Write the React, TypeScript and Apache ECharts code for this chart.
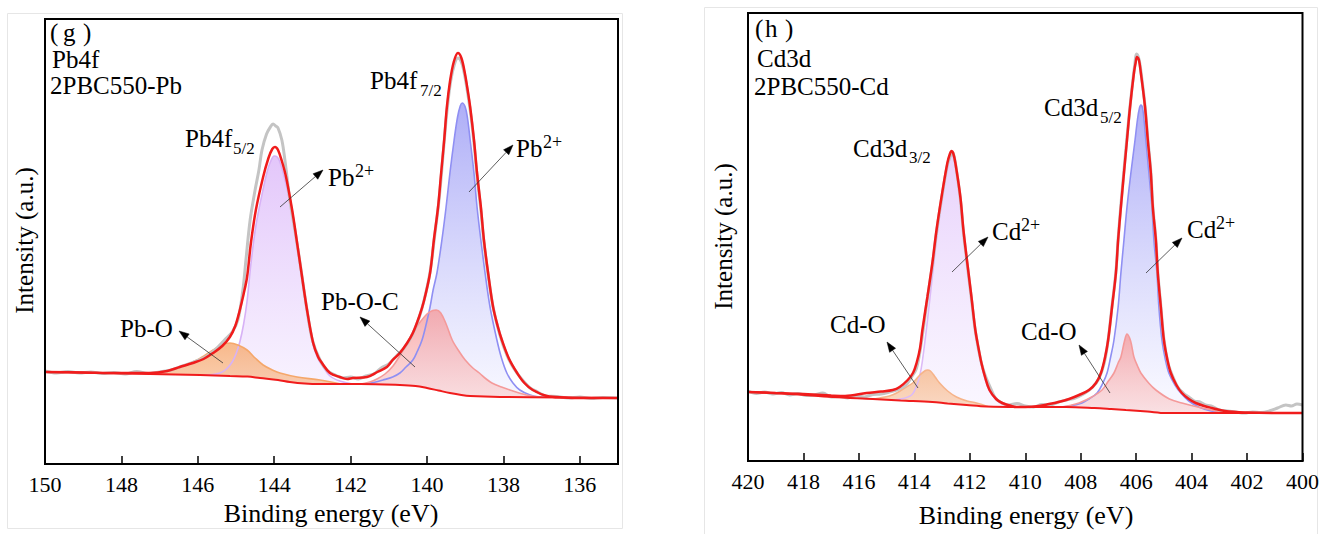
import React, { useEffect, useRef } from "react";
import * as echarts from "echarts";

// ---------------- DATA (binding energy eV, intensity a.u.) ----------------
const PB_TICKS = [136, 138, 140, 142, 144, 146, 148, 150];

const pbRaw = [
  [150, 93], [149.7, 91], [149.4, 92.5], [149.1, 91], [148.8, 92], [148.5, 90.5], [148.2, 91.5], [147.9, 90],
  [147.6, 92.5], [147.3, 90.5], [147.0, 92], [146.7, 94], [146.4, 98], [146.1, 102], [145.8, 107], [145.5, 116],
  [145.3, 124], [145.1, 132], [144.95, 144], [144.82, 174], [144.74, 204], [144.63, 244], [144.5, 274], [144.4, 294],
  [144.32, 314], [144.2, 330], [144.1, 337], [144.03, 340], [143.96, 338], [143.9, 336], [143.8, 324], [143.72, 304],
  [143.59, 264], [143.45, 232], [143.3, 195], [143.15, 156], [143.0, 124], [142.8, 104], [142.6, 93], [142.4, 89],
  [142.2, 86], [142.0, 87], [141.8, 85], [141.6, 88], [141.4, 90], [141.2, 96], [141.0, 100], [140.8, 108],
  [140.6, 116], [140.4, 128], [140.2, 147], [140.05, 168], [139.92, 192], [139.8, 228], [139.68, 266], [139.56, 318],
  [139.48, 352], [139.38, 383], [139.28, 400], [139.19, 406], [139.1, 402], [139.01, 388], [138.87, 354], [138.77, 321],
  [138.69, 288], [138.59, 254], [138.51, 222], [138.4, 189], [138.27, 157], [138.1, 130], [137.9, 108], [137.7, 94],
  [137.5, 84], [137.3, 76], [137.1, 72], [136.9, 68], [136.6, 67.5], [136.3, 66], [136.0, 67], [135.7, 65.5],
  [135.4, 66.5], [135.0, 66],
];

const pbEnvelope = [
  [150.0, 92], [149.0, 91.5], [148.0, 91], [147.25, 91], [146.8, 93], [146.47, 97], [146.13, 101], [145.85, 105],
  [145.6, 111], [145.36, 118], [145.16, 127], [145.02, 138], [144.9, 154], [144.8, 170], [144.71, 187], [144.61, 221],
  [144.48, 254], [144.29, 287], [144.15, 306], [144.05, 315], [143.98, 317], [143.9, 314], [143.8, 303], [143.69, 287],
  [143.53, 254], [143.4, 221], [143.27, 187], [143.14, 154], [142.98, 121], [142.85, 107], [142.75, 101], [142.54, 91],
  [142.28, 87], [142.09, 85], [141.94, 86], [141.57, 87], [141.3, 92], [141.05, 97], [140.9, 104], [140.71, 111],
  [140.52, 121], [140.37, 131], [140.2, 148], [140.08, 163], [139.92, 191], [139.82, 224], [139.71, 257], [139.63, 291],
  [139.55, 324], [139.48, 357], [139.4, 382], [139.3, 402], [139.19, 411], [139.1, 406], [139.01, 391], [138.94, 375],
  [138.87, 357], [138.77, 324], [138.69, 291], [138.59, 257], [138.51, 224], [138.4, 191], [138.27, 157], [138.15, 138],
  [138.04, 124], [137.85, 105], [137.64, 91], [137.45, 81], [137.23, 74], [136.86, 68], [136.4, 66.5], [136.0, 66],
  [135.0, 66],
];

const pbBackground = [
  [150, 92], [148.56, 91], [147.25, 90], [145.94, 89], [145.16, 88], [144.7, 87.5], [144.37, 86], [143.9, 84],
  [143.59, 82], [143.2, 80.5], [142.8, 80], [141.75, 80], [140.71, 79], [140.3, 78], [140.0, 76], [139.7, 73.5],
  [139.4, 71], [139.1, 69], [138.87, 68], [138.09, 67], [136.5, 66.5], [135, 66],
];

const pbO = [
  [147.8, 90.3], [147.2, 91], [146.8, 93], [146.47, 97], [146.02, 104], [145.6, 114], [145.35, 119.5], [145.16, 121],
  [144.95, 119], [144.71, 114], [144.5, 106], [144.29, 99], [144.05, 94], [143.85, 91], [143.4, 87], [142.8, 84],
  [142.2, 79.5],
];

const pb2plus52 = [
  [146.0, 88.5], [145.6, 89.5], [145.42, 91], [145.25, 95], [145.1, 102], [145.0, 110], [144.9, 122], [144.8, 140],
  [144.71, 163], [144.61, 200], [144.48, 238], [144.29, 275], [144.18, 293], [144.1, 302], [144.0, 308], [143.92, 307],
  [143.85, 302], [143.69, 280], [143.53, 250], [143.4, 218], [143.27, 184], [143.14, 151], [142.98, 119], [142.85, 105],
  [142.75, 99], [142.54, 88], [142.28, 83], [141.94, 80], [141.6, 79.5],
];

const pb2plus72 = [
  [141.8, 79.5], [141.4, 81.5], [141.15, 84], [140.9, 87], [140.71, 91], [140.55, 97], [140.37, 104], [140.25, 113],
  [140.13, 124], [140.02, 140], [139.92, 157], [139.84, 174], [139.74, 191], [139.61, 224], [139.5, 257], [139.4, 291],
  [139.29, 324], [139.2, 347], [139.13, 358], [139.08, 361], [139.0, 357], [138.94, 346], [138.87, 324], [138.77, 291],
  [138.69, 257], [138.59, 224], [138.48, 191], [138.35, 157], [138.17, 124], [138.05, 106], [137.91, 91], [137.75, 81],
  [137.57, 74], [137.3, 69], [137.04, 67], [136.6, 66],
];

const pbOC = [
  [141.8, 79.5], [141.5, 82], [141.31, 85], [141.1, 90], [140.89, 98], [140.7, 109], [140.52, 121], [140.35, 133],
  [140.18, 142], [140.0, 150], [139.85, 153.5], [139.76, 154], [139.64, 151], [139.5, 140], [139.34, 124], [139.15, 112],
  [139.0, 104], [138.8, 96], [138.63, 91], [138.45, 85], [138.3, 81], [138.05, 77], [137.83, 74], [137.4, 69],
  [137.0, 66.5], [136.7, 66],
];

const cdRaw = [
  [420, 70], [419.7, 67.5], [419.4, 69], [419.1, 67], [418.8, 68.5], [418.5, 66], [418.2, 67.5], [417.9, 65.5],
  [417.6, 66], [417.3, 68], [417.0, 64], [416.7, 64.5], [416.4, 63], [416.1, 65.5], [415.8, 64], [415.5, 66.5],
  [415.2, 67], [414.9, 69], [414.6, 71.5], [414.3, 76], [414.1, 84], [413.92, 93], [413.75, 118], [413.55, 158],
  [413.35, 196], [413.2, 229], [413.02, 262], [412.81, 296], [412.7, 305], [412.64, 309], [412.56, 304], [412.45, 285],
  [412.34, 262], [412.23, 229], [412.09, 196], [411.94, 162], [411.8, 130], [411.6, 100], [411.45, 86], [411.3, 76],
  [411.1, 64], [410.9, 59], [410.6, 56], [410.3, 57.5], [410.0, 55], [409.7, 54], [409.4, 56.5], [409.1, 56],
  [408.8, 59], [408.5, 61], [408.2, 63], [407.9, 67], [407.6, 73], [407.35, 82], [407.15, 98], [407.01, 121],
  [406.87, 155], [406.73, 189], [406.65, 222], [406.55, 256], [406.44, 290], [406.33, 324], [406.2, 360], [406.06, 394],
  [405.98, 407], [405.9, 402], [405.83, 390], [405.68, 355], [405.58, 322], [405.47, 289], [405.4, 255], [405.29, 222],
  [405.22, 189], [405.11, 155], [405.0, 122], [404.85, 98], [404.7, 86], [404.5, 74], [404.3, 68], [404.1, 64],
  [403.9, 60], [403.7, 59], [403.5, 56], [403.3, 55], [403.0, 51], [402.7, 50], [402.4, 49], [402.1, 48],
  [401.8, 49], [401.5, 48.5], [401.2, 50], [400.9, 53], [400.6, 56], [400.4, 55], [400.2, 57], [400, 56],
];

const cdEnvelope = [
  [420, 69], [419, 68], [418, 67], [417, 65.5], [416.5, 65], [415.72, 68], [415.2, 69.5], [414.78, 71],
  [414.53, 74], [414.24, 81], [414.05, 88], [413.92, 98], [413.8, 112], [413.71, 131], [413.53, 164], [413.35, 198],
  [413.2, 231], [413.02, 264], [412.81, 298], [412.72, 307], [412.66, 310], [412.6, 308], [412.52, 298], [412.34, 264],
  [412.23, 231], [412.09, 198], [411.94, 164], [411.8, 131], [411.68, 112], [411.58, 98], [411.45, 84], [411.29, 71],
  [411.05, 62], [410.83, 58], [410.5, 55], [410.32, 54], [410.0, 54], [409.5, 55], [409.14, 57], [408.8, 59],
  [408.42, 62], [408.06, 66], [407.7, 71], [407.45, 78], [407.27, 88], [407.12, 104], [407.01, 121], [406.87, 154],
  [406.73, 188], [406.65, 221], [406.55, 254], [406.44, 288], [406.33, 321], [406.22, 354], [406.08, 388], [406.02, 398],
  [405.97, 404], [405.9, 401], [405.83, 388], [405.68, 354], [405.58, 321], [405.47, 288], [405.4, 254], [405.29, 221],
  [405.22, 188], [405.11, 154], [405.0, 121], [404.88, 102], [404.75, 88], [404.55, 76], [404.35, 68], [404.1, 62],
  [403.85, 58], [403.55, 55], [403.27, 53], [402.8, 50], [402.0, 48.5], [401, 48], [400, 48],
];

const cdBackground = [
  [420, 69], [418.5, 67], [416.94, 64], [415.5, 62], [414.5, 60.5], [413.35, 59], [412.8, 57.5], [412.12, 56],
  [411.4, 54.5], [410.22, 54], [408.53, 54], [407.5, 53], [406.9, 52], [406.37, 51], [405.6, 49.5], [404.93, 48],
  [403.74, 48], [400, 48],
];

const cdO32 = [
  [415.6, 61.5], [415.25, 63], [414.9, 65], [414.64, 68], [414.35, 73], [414.06, 78], [413.8, 86], [413.6, 90.5],
  [413.53, 91], [413.42, 90], [413.25, 84], [413.09, 78], [412.8, 70], [412.48, 64], [412.1, 60], [411.76, 58],
  [411.3, 54],
];

const cd2plus32 = [
  [415.0, 61], [414.5, 62], [414.1, 66], [413.92, 75], [413.8, 86], [413.71, 100], [413.53, 140], [413.35, 185],
  [413.2, 222], [413.02, 258], [412.81, 294], [412.72, 303], [412.66, 306], [412.6, 304], [412.52, 295], [412.34, 262],
  [412.23, 229], [412.09, 196], [411.94, 162], [411.8, 129], [411.68, 110], [411.58, 96], [411.45, 82], [411.29, 70],
  [411.05, 61], [410.83, 57], [410.5, 54.5], [410.0, 53.5],
];

const cd2plus52 = [
  [409.0, 53.5], [408.4, 55], [407.95, 58], [407.7, 62], [407.41, 68], [407.2, 78], [407.05, 88], [406.92, 104],
  [406.8, 121], [406.65, 154], [406.55, 188], [406.44, 221], [406.33, 254], [406.19, 288], [406.04, 321], [405.95, 342],
  [405.88, 353], [405.83, 356], [405.76, 352], [405.65, 321], [405.54, 288], [405.43, 254], [405.36, 221], [405.25, 188],
  [405.18, 154], [405.07, 121], [404.95, 102], [404.82, 88], [404.6, 76], [404.39, 68], [404.1, 60], [403.74, 54],
  [403.3, 50], [402.8, 48],
];

const cdO52 = [
  [408.8, 53.5], [408.4, 55.5], [408.06, 58], [407.6, 64], [407.23, 71], [407.0, 80], [406.8, 88], [406.65, 98],
  [406.55, 104], [406.42, 120], [406.33, 127], [406.2, 120], [406.08, 104], [405.95, 95], [405.83, 88], [405.55, 78],
  [405.29, 71], [404.8, 62], [404.35, 58], [403.63, 53], [403.0, 49.5], [402.5, 48],
];

// ---------------- STYLE ----------------
const SERIF = "Liberation Serif";
const RED = "#f01c1c";

function grad(top: string, bottom: string) {
  return new echarts.graphic.LinearGradient(0, 0, 0, 1, [
    { offset: 0, color: top },
    { offset: 0.8, color: bottom },
    { offset: 1, color: bottom },
  ]);
}

function comp(idx: number, data: number[][], line: string, top: string, bottom: string, z: number) {
  return {
    type: "line", xAxisIndex: idx, yAxisIndex: idx, data, smooth: 0.35, showSymbol: false, silent: true, z,
    lineStyle: { color: line, width: 1.6 },
    areaStyle: { color: grad(top, bottom), opacity: 1 },
  };
}

function plain(idx: number, data: number[][], color: string, width: number, z: number) {
  return {
    type: "line", xAxisIndex: idx, yAxisIndex: idx, data, smooth: 0.35, showSymbol: false, silent: true, z,
    lineStyle: { color, width },
  };
}

function mask(idx: number, data: number[][]) {
  return {
    type: "line", xAxisIndex: idx, yAxisIndex: idx, data, smooth: 0.35, showSymbol: false, silent: true, z: 3,
    lineStyle: { width: 0, opacity: 0 },
    areaStyle: { color: "#ffffff", opacity: 1 },
  };
}

function txt(x: number, baseline: number, text: string, size: number) {
  return {
    type: "text", x, y: baseline - size * 0.3375, z: 30, silent: true,
    style: { text, fontSize: size, fontFamily: SERIF, fill: "#000", align: "left", verticalAlign: "middle" },
  };
}

function arrow(x1: number, y1: number, x2: number, y2: number) {
  const dx = x2 - x1, dy = y2 - y1;
  const L = Math.sqrt(dx * dx + dy * dy);
  const ux = dx / L, uy = dy / L;
  const hl = 10, hw = 3.6;
  const bx = x2 - ux * hl, by = y2 - uy * hl;
  const px = -uy, py = ux;
  return [
    { type: "line", z: 30, silent: true, shape: { x1, y1, x2: bx, y2: by }, style: { stroke: "#333", lineWidth: 0.8 } },
    { type: "polygon", z: 30, silent: true,
      shape: { points: [[x2, y2], [bx + px * hw, by + py * hw], [bx - px * hw, by - py * hw]] },
      style: { fill: "#000", stroke: "#000", lineWidth: 0.5 } },
  ];
}

function xAxisBase(idx: number) {
  return {
    type: "value", gridIndex: idx, inverse: true, z: 11,
    axisLine: { show: true, lineStyle: { color: "#000", width: 2 } },
    splitLine: { show: false },
  };
}

function centered(x: number, y: number, text: string, size: number, rotation: number) {
  return {
    type: "text", x, y, rotation, z: 30, silent: true,
    style: { text, fontSize: size, fontFamily: SERIF, fill: "#000", align: "center", verticalAlign: "middle" },
  };
}

export default function App() {
  const ref = useRef<HTMLDivElement>(null);
  useEffect(() => {
    document.body.style.margin = "0";
    const chart = echarts.init(ref.current!, null, { renderer: "svg" });
    const graphics: any[] = [
      { type: "rect", z: 0, silent: true, shape: { x: 7.5, y: 13.5, width: 615, height: 515 },
        style: { fill: "none", stroke: "#e6e6e6", lineWidth: 1 } },
      { type: "rect", z: 0, silent: true, shape: { x: 704.5, y: 7.5, width: 613, height: 530 },
        style: { fill: "none", stroke: "#e6e6e6", lineWidth: 1 } },
      // panel g
      txt(50, 41, "(", 25), txt(63, 41, "g", 25), txt(83, 41, ")", 25),
      txt(52, 68, "Pb4f", 25),
      txt(50, 94, "2PBC550-Pb", 25),
      txt(185, 147, "Pb4f", 25), txt(233, 154, "5/2", 17),
      txt(370, 89, "Pb4f", 25), txt(420, 96, "7/2", 17),
      txt(328, 186, "Pb", 25), txt(355, 177, "2+", 18),
      txt(516, 157, "Pb", 25), txt(543, 148, "2+", 18),
      txt(120, 337, "Pb-O", 25),
      txt(321, 310, "Pb-O-C", 25),
      ...arrow(280, 207, 323, 170),
      ...arrow(469, 192, 513, 145),
      ...arrow(223, 363, 179, 331),
      ...arrow(415, 367, 360, 317),
      // panel h
      txt(755, 37, "(", 25), txt(765, 37, "h", 25), txt(785, 37, ")", 25),
      txt(757, 67, "Cd3d", 25),
      txt(754, 95, "2PBC550-Cd", 25),
      txt(853, 157, "Cd3d", 25), txt(909, 163, "3/2", 17),
      txt(1044, 116, "Cd3d", 25), txt(1100, 123, "5/2", 17),
      txt(992, 240, "Cd", 25), txt(1021, 231, "2+", 18),
      txt(1187, 238, "Cd", 25), txt(1216, 229, "2+", 18),
      txt(830, 333, "Cd-O", 25),
      txt(1021, 340, "Cd-O", 25),
      ...arrow(952, 272, 988, 237),
      ...arrow(1146, 273, 1182, 238),
      ...arrow(918, 388, 887, 342),
      ...arrow(1110, 393, 1079, 345),
      // axis titles
      centered(331, 513, "Binding energy (eV)", 26, 0),
      centered(1026, 515, "Binding energy (eV)", 26, 0),
      centered(24.5, 240.5, "Intensity (a.u.)", 25, Math.PI / 2),
      centered(723.5, 236.5, "Intensity (a.u.)", 25, Math.PI / 2),
    ];

    const labelStyle = { fontSize: 22, fontFamily: SERIF, color: "#000", margin: 9 };
    const tickStyle = { show: true, inside: true, length: 8, lineStyle: { color: "#000", width: 1.5 } };

    chart.setOption({
      animation: false,
      backgroundColor: "#ffffff",
      textStyle: { fontFamily: SERIF },
      grid: [
        { left: 45, top: 19, width: 573, height: 445, show: true, borderColor: "#000", borderWidth: 2,
          backgroundColor: "transparent", z: 10 },
        { left: 748, top: 13, width: 556, height: 448, show: true, borderColor: "#000", borderWidth: 2,
          backgroundColor: "transparent", z: 10 },
      ],
      xAxis: [
        { ...xAxisBase(0), min: 135, max: 150,
          axisTick: { ...tickStyle, customValues: PB_TICKS },
          axisLabel: { ...labelStyle, customValues: PB_TICKS } },
        { ...xAxisBase(1), min: 400, max: 420, interval: 2,
          axisTick: tickStyle,
          axisLabel: labelStyle },
      ],
      yAxis: [
        { type: "value", gridIndex: 0, min: 0, max: 445, axisLine: { show: false }, axisTick: { show: false },
          axisLabel: { show: false }, splitLine: { show: false } },
        { type: "value", gridIndex: 1, min: 0, max: 448, axisLine: { show: false }, axisTick: { show: false },
          axisLabel: { show: false }, splitLine: { show: false } },
      ],
      series: [
        // Pb panel
        comp(0, pb2plus52, "#d7b2f6", "rgba(224,192,250,0.9)", "rgba(246,240,255,0.7)", 2),
        comp(0, pbO, "#f5a76a", "rgba(246,172,118,0.85)", "rgba(252,222,200,0.7)", 2),
        comp(0, pb2plus72, "#8f8ff3", "rgba(165,165,246,0.9)", "rgba(242,242,255,0.7)", 2),
        comp(0, pbOC, "#f49a9a", "rgba(246,150,150,0.75)", "rgba(252,228,228,0.6)", 2),
        mask(0, pbBackground),
        plain(0, pbRaw, "#c4c4c4", 3, 4),
        plain(0, pbBackground, RED, 2, 5),
        plain(0, pbEnvelope, RED, 2.5, 6),
        // Cd panel
        comp(1, cd2plus32, "#dcbaf7", "rgba(230,205,251,0.9)", "rgba(247,242,255,0.7)", 2),
        comp(1, cdO32, "#f6b48a", "rgba(247,185,140,0.8)", "rgba(252,225,208,0.7)", 2),
        comp(1, cd2plus52, "#8f8ff3", "rgba(165,165,246,0.9)", "rgba(242,242,255,0.7)", 2),
        comp(1, cdO52, "#f49a9a", "rgba(246,150,150,0.75)", "rgba(252,228,228,0.6)", 2),
        mask(1, cdBackground),
        plain(1, cdRaw, "#c4c4c4", 3, 4),
        plain(1, cdBackground, RED, 2, 5),
        plain(1, cdEnvelope, RED, 2.5, 6),
      ],
      graphic: graphics,
    });
    return () => chart.dispose();
  }, []);
  return <div ref={ref} style={{ width: 1322, height: 534 }} />;
}
